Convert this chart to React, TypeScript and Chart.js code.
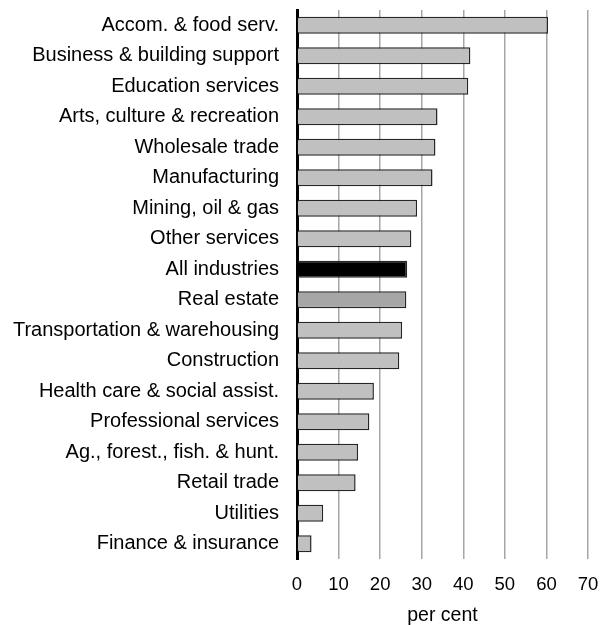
import React, { useEffect, useRef } from "react";
import { Chart, registerables } from "chart.js";

Chart.register(...registerables);

const categories = [
  "Accom. & food serv.",
  "Business & building support",
  "Education services",
  "Arts, culture & recreation",
  "Wholesale trade",
  "Manufacturing",
  "Mining, oil & gas",
  "Other services",
  "All industries",
  "Real estate",
  "Transportation & warehousing",
  "Construction",
  "Health care & social assist.",
  "Professional services",
  "Ag., forest., fish. & hunt.",
  "Retail trade",
  "Utilities",
  "Finance & insurance",
];

const values = [60.4, 41.7, 41.2, 33.8, 33.3, 32.6, 28.9, 27.5, 26.5, 26.3, 25.3, 24.6, 18.5, 17.4, 14.7, 14.1, 6.3, 3.5];

const xTicks = [0, 10, 20, 30, 40, 50, 60, 70];
const xTitle = "per cent";

const FONT = "'Liberation Sans', Arial, sans-serif";

export default function App() {
  const ref = useRef<HTMLCanvasElement | null>(null);
  useEffect(() => {
    if (!ref.current) return;
    const colors = categories.map((c) =>
      c === "All industries" ? "#000000" : c === "Real estate" ? "#a6a6a6" : "#c0c0c0"
    );
    const chart = new Chart(ref.current, {
      type: "bar",
      data: {
        labels: categories,
        datasets: [
          {
            data: values,
            backgroundColor: colors,
            borderColor: "#262626",
            borderWidth: 1.5,
            categoryPercentage: 1,
            barPercentage: 0.55,
          },
        ],
      },
      options: {
        indexAxis: "y",
        animation: false,
        responsive: false,
        maintainAspectRatio: false,
        layout: { padding: { top: 10, right: 13, left: 0, bottom: 0 } },
        plugins: { legend: { display: false }, tooltip: { enabled: false } },
        scales: {
          x: {
            min: 0,
            max: 70,
            afterBuildTicks: (scale: any) => {
              scale.ticks = xTicks.map((v) => ({ value: v }));
            },
            grid: { color: "#a6a6a6", lineWidth: 1.5, drawTicks: false },
            border: { display: false },
            ticks: {
              color: "#000",
              font: { family: FONT, size: 18.5 },
              padding: 15,
              maxRotation: 0,
            },
            title: {
              display: true,
              text: xTitle,
              color: "#000",
              font: { family: FONT, size: 19.5 },
              padding: { top: 0, bottom: -2 },
            },
            afterFit: (scale: any) => {
              scale.height = 66;
              scale.paddingLeft = 0;
              scale.paddingRight = 0;
            },
          },
          y: {
            grid: { display: false, drawTicks: false },
            border: { display: true, color: "#000", width: 3 },
            ticks: {
              color: "#000",
              font: { family: FONT, size: 20 },
              padding: 18,
              autoSkip: false,
            },
            afterFit: (scale: any) => {
              scale.width = 297;
              scale.paddingTop = 0;
              scale.paddingBottom = 0;
            },
          },
        },
      },
    });
    return () => chart.destroy();
  }, []);
  return (
    <div style={{ position: "absolute", left: 0, top: 0, width: 601, height: 625, background: "#fff" }}>
      <canvas ref={ref} width={601} height={625} />
    </div>
  );
}
